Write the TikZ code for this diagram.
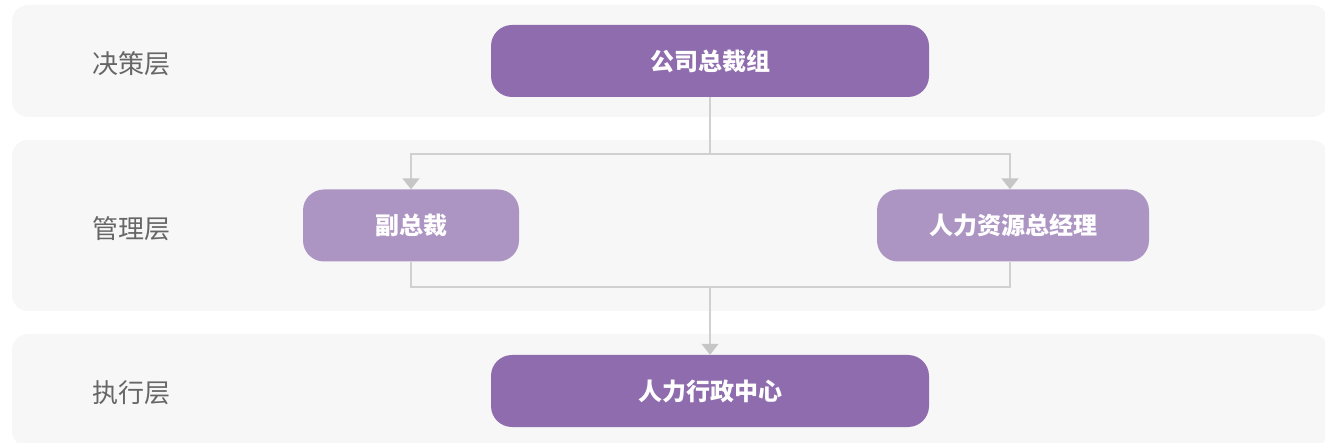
\documentclass[tikz,border=0pt]{standalone}
\usepackage{fontspec}
\newfontfamily\cjk{Noto Sans CJK SC}
\usetikzlibrary{arrows.meta}

\definecolor{bandgray}{HTML}{F7F7F7}
\definecolor{deeppurple}{HTML}{8F6CAE}
\definecolor{softpurple}{HTML}{AD95C3}
\definecolor{wiregray}{HTML}{D0D0D0}
\definecolor{tipgray}{HTML}{C6C6C6}
\definecolor{labelgray}{HTML}{666666}

\tikzset{
   band/.style={fill=bandgray,rounded corners=16pt},
   layer/.style={text=labelgray,font=\cjk\fontsize{26}{30}\selectfont},
   unit/.style={rounded corners=21pt,text=white,minimum height=72pt,
      font=\cjk\bfseries\fontsize{24}{28}\selectfont},
   mainunit/.style={unit,fill=deeppurple,minimum width=438pt},
   subunit/.style={unit,fill=softpurple},
   wire/.style={draw=wiregray,line width=1.5pt},
   feed/.style={wire,-{Triangle[width=17pt,length=11pt,color=tipgray]}}
}

\begin{document}
\begin{tikzpicture}[x=1pt,y=-1pt]
            \useasboundingbox (0,0) rectangle (1325,443);
            
            % layer bands
            \fill [band] (12,5) rectangle (1328,117);
            \fill [band] (12,140) rectangle (1328,311);
            \fill [band] (12,334) rectangle (1328,447);
            
            \node [layer] (decide) at (131,64) {决策层};
            \node [layer] (manage) at (131,229) {管理层};
            \node [layer] (execute) at (131,393) {执行层};
            
            % units
            \node [mainunit] (president) at (710,61) {公司总裁组};
            \node [subunit,minimum width=216pt] (vicepres) at (411,225.5) {副总裁};
            \node [subunit,minimum width=272pt] (hrmanager) at (1013,225.5) {人力资源总经理};
            \node [mainunit] (hradmin) at (710,391) {人力行政中心};
            
            \coordinate (split) at (710,154);
            \coordinate (merge) at (710,287);
            
            \draw [wire] (president.south) -- (split);
            \draw [feed] (split) -| (vicepres.north);
            \draw [feed] (split) -| ([xshift=-3pt]hrmanager.north);
            
            \draw [wire] (vicepres.south) |- (merge) -| ([xshift=-3pt]hrmanager.south);
            \draw [feed] (merge) -- (hradmin.north);
         \end{tikzpicture}
\end{document}
